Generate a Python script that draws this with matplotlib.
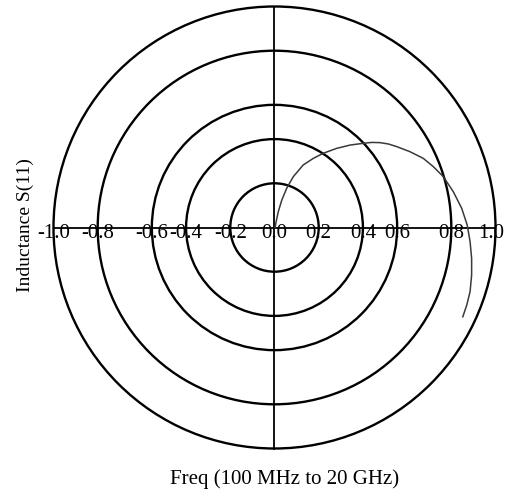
import numpy as np
import matplotlib
matplotlib.use("Agg")
import matplotlib.pyplot as plt
from matplotlib.patches import Circle

# grid rings (radius on the chart) and the text printed on the real axis
ring_r = [0.20, 0.40, 0.555, 0.80, 1.0]
ring_labels = ["0.2", "0.4", "0.6", "0.8", "1.0"]

# measured S11 of the inductor, 100 MHz -> 20 GHz
re_s11 = [0.003, 0.007, 0.017, 0.033, 0.055, 0.085, 0.130, 0.176, 0.221, 0.281,
          0.342, 0.402, 0.440, 0.477, 0.515, 0.553, 0.613, 0.673, 0.719, 0.764,
          0.809, 0.847, 0.872, 0.885, 0.892, 0.892, 0.885, 0.870, 0.852]
im_s11 = [0.0, 0.025, 0.071, 0.124, 0.177, 0.230, 0.283, 0.313, 0.336, 0.358,
          0.373, 0.381, 0.385, 0.384, 0.378, 0.366, 0.343, 0.313, 0.275, 0.230,
          0.162, 0.087, 0.011, -0.064, -0.140, -0.215, -0.290, -0.351, -0.404]

W, H = 506, 493
fig = plt.figure(figsize=(W / 100, H / 100), dpi=100)
fig.patch.set_facecolor("white")

# centre of chart in pixels, unit radius in pixels
cx, cy, R, lim = 274.5, 227.5, 221, 1.05
half = R * lim
ax = fig.add_axes([(cx - half) / W, (H - cy - half) / H, 2 * half / W, 2 * half / H])
ax.set_xlim(-lim, lim)
ax.set_ylim(-lim, lim)
ax.axis("off")

for r in ring_r:
    ax.add_patch(Circle((0, 0), r, fill=False, ec="black", lw=1.7))

outer = max(ring_r)
ax.plot([-outer, outer], [0, 0], color="black", lw=1.3)
ax.plot([0, 0], [-outer, outer], color="black", lw=1.3)

serif = ["Liberation Serif", "DejaVu Serif"]
base_y = -10.5 / R
ax.text(0, base_y, "0.0", ha="center", va="baseline", fontsize=15, family=serif)
for r, lab in zip(ring_r, ring_labels):
    # keep the outermost right label inside the figure
    nudge = -4 / R if r == outer else 0
    ax.text(r + nudge, base_y, lab, ha="center", va="baseline", fontsize=15, family=serif)
    ax.text(-r, base_y, "-" + lab, ha="center", va="baseline", fontsize=15, family=serif)

ax.plot(re_s11, im_s11, color="#3a3a3a", lw=1.1)

fig.text(284.5 / W, 1 - 479 / H, "Freq (100 MHz to 20 GHz)", ha="center", va="center",
         fontsize=15, family=serif)
fig.text(25 / W, 1 - 225 / H, "Inductance S(11)", ha="center", va="center",
         rotation=90, fontsize=14, family=serif)

fig.savefig("out.png", dpi=100, facecolor="white")
